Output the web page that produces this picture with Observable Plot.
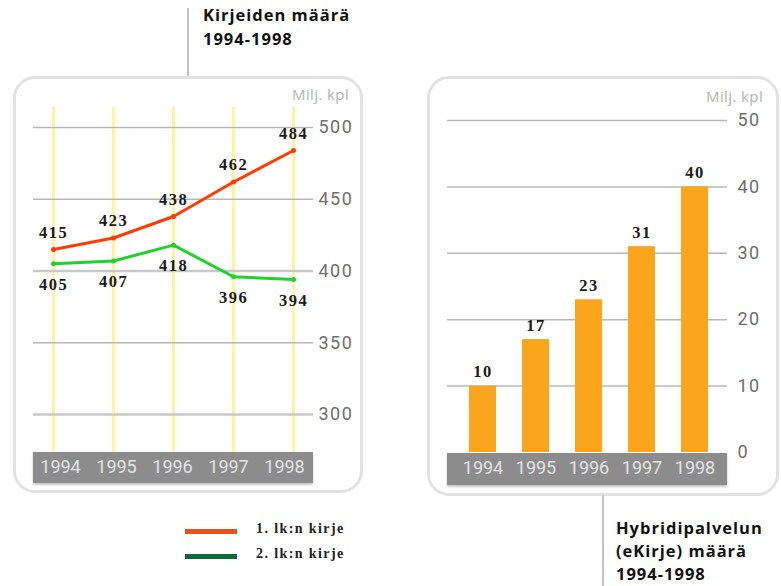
<!DOCTYPE html>
<html>
<head>
<meta charset="utf-8">
<script src="https://cdn.jsdelivr.net/npm/d3@7"></script>
<script src="https://cdn.jsdelivr.net/npm/@observablehq/plot@0.6"></script>
<style>
  html, body { margin: 0; padding: 0; background: #fff; }
  body { width: 781px; height: 586px; position: relative; overflow: hidden; font-family: "Open Sans", sans-serif; }
  .box { position: absolute; border: 3px solid #e2e2e2; border-radius: 22px; box-sizing: border-box; }
  .band { position: absolute; background: #8c8c8c; box-shadow: 0 2px 2px #c8c8c8; }
  .vline { position: absolute; width: 2px; background: #c4c4c4; }
  .title { position: absolute; font-family: "Open Sans", sans-serif; font-weight: 700; font-size: 16.5px; letter-spacing: 1px; line-height: 24px; color: #111; white-space: nowrap; }
  .unit { position: absolute; font-family: "Open Sans", sans-serif; font-size: 15px; letter-spacing: 0.4px; color: #b4b4b4; white-space: nowrap; }
  .legend { position: absolute; font-family: "Liberation Serif", serif; font-weight: 700; font-size: 14px; letter-spacing: 1.4px; color: #222; white-space: nowrap; }
  .swatch { position: absolute; height: 5px; width: 52px; }
  .plot { position: absolute; top: 0; }
  .plot g[aria-label="y-axis tick label"] text { letter-spacing: 1.5px; }
  .plot g[aria-label="text"] text { letter-spacing: 1.5px; }
</style>
</head>
<body>
<div class="vline" style="left:187px; top:8px; height:70px;"></div>
<div class="title" style="left:203px; top:3px;">Kirjeiden määrä<br>1994-1998</div>
<div class="box" style="left:13px; top:76px; width:350px; height:417px;"></div>
<div class="box" style="left:427px; top:76px; width:352px; height:420px;"></div>
<div class="band" style="left:33px; top:452px; width:280px; height:31px;"></div>
<div class="band" style="left:447px; top:453px; width:280px; height:32px;"></div>
<div class="unit" style="left:292px; top:84px;">Milj. kpl</div>
<div class="unit" style="left:706px; top:86px;">Milj. kpl</div>
<div class="vline" style="left:602px; top:495px; height:91px;"></div>
<div class="title" style="left:616px; top:516px; line-height:23px;">Hybridipalvelun<br>(eKirje) määrä<br>1994-1998</div>
<div class="swatch" style="left:185px; top:529px; background:#e8521c;"></div>
<div class="legend" style="left:256px; top:521px;">1. lk:n kirje</div>
<div class="swatch" style="left:185px; top:554px; background:#0b6b38;"></div>
<div class="legend" style="left:256px; top:546px;">2. lk:n kirje</div>
<div id="left" class="plot" style="left:0px;"></div>
<div id="leftAxis" class="plot" style="left:0px;"></div>
<div id="right" class="plot" style="left:428px;"></div>
<script>
// ---- data ----
const years = ["1994", "1995", "1996", "1997", "1998"];
const firstClass = [415, 423, 438, 462, 484];   // 1. lk:n kirje
const secondClass = [405, 407, 418, 396, 394];  // 2. lk:n kirje
const leftTicks = [300, 350, 400, 450, 500];
const hybrid = [10, 17, 23, 31, 40];            // eKirje
const rightTicks = [10, 20, 30, 40, 50];
const rightTickLabels = [0, 10, 20, 30, 40, 50];

const first = years.map((y, i) => ({year: y, value: firstClass[i]}));
const second = years.map((y, i) => ({year: y, value: secondClass[i]}));
const bars = years.map((y, i) => ({year: y, value: hybrid[i]}));

const tickFont = {fontFamily: "Roboto, sans-serif", fontSize: 18};
const labelFont = {fontFamily: "Liberation Serif, serif", fontWeight: "bold", fontSize: 16.5, fill: "#1a1a1a"};
const style = {background: "transparent", overflow: "visible"};

const left = Plot.plot({
  width: 370, height: 500,
  marginTop: 107, marginBottom: 48, marginLeft: 33, marginRight: 57,
  style,
  x: {type: "point", domain: years, range: [51, 294], padding: 0, axis: null},
  y: {domain: [300, 500], range: [414, 127]},
  marks: [
    Plot.ruleX(years, {stroke: "#fff4a3", strokeWidth: 3}),
    Plot.ruleY(leftTicks, {
      stroke: d => (d === 300 || d === 400) ? "#c9c9c9" : "#b8b8b8",
      strokeWidth: d => (d === 300 || d === 400) ? 2.5 : 1.5
    }),
    Plot.axisY({anchor: "right", ticks: leftTicks, tickSize: 0, tickPadding: 5, color: "#6e6e6e", label: null, ...tickFont}),
    Plot.line(second, {x: "year", y: "value", stroke: "#22d12a", strokeWidth: 3}),
    Plot.dot(second, {x: "year", y: "value", r: 2.5, fill: "#22d12a"}),
    Plot.line(first, {x: "year", y: "value", stroke: "#ff3c00", strokeWidth: 3}),
    Plot.dot(first, {x: "year", y: "value", r: 2.5, fill: "#ff3c00"}),
    Plot.text(first, {x: "year", y: "value", text: "value", dy: -17, ...labelFont}),
    Plot.text(second, {x: "year", y: "value", text: "value", dy: 21, ...labelFont})
  ]
});
document.getElementById("left").appendChild(left);

// year labels inside the grey band of the left chart (evenly spaced inside the band)
const leftAxis = Plot.plot({
  width: 370, height: 500,
  marginTop: 107, marginBottom: 48, marginLeft: 33, marginRight: 57,
  style,
  x: {type: "point", domain: years, range: [59, 285], padding: 0},
  y: {axis: null},
  marks: [
    Plot.axisX({anchor: "bottom", tickSize: 0, tickPadding: 8, color: "#e4e4e4", label: null, ...tickFont})
  ]
});
document.getElementById("leftAxis").appendChild(leftAxis);

const right = Plot.plot({
  width: 353, height: 500,
  marginTop: 100, marginBottom: 48, marginLeft: 19, marginRight: 54,
  style,
  x: {type: "band", domain: years, range: [28.5, 293.5], paddingInner: 0.49, paddingOuter: 0.245},
  y: {domain: [0, 50], range: [452, 120]},
  marks: [
    Plot.ruleY(rightTicks, {stroke: "#b8b8b8", strokeWidth: 1.5}),
    Plot.barY(bars, {x: "year", y: "value", fill: "#fba51c"}),
    Plot.axisX({anchor: "bottom", tickSize: 0, tickPadding: 9, color: "#e4e4e4", label: null, ...tickFont}),
    Plot.axisY({anchor: "right", ticks: rightTickLabels, tickSize: 0, tickPadding: 10, color: "#6e6e6e", label: null, ...tickFont}),
    Plot.text(bars, {x: "year", y: "value", text: "value", dy: -14, ...labelFont})
  ]
});
document.getElementById("right").appendChild(right);
</script>
</body>
</html>
